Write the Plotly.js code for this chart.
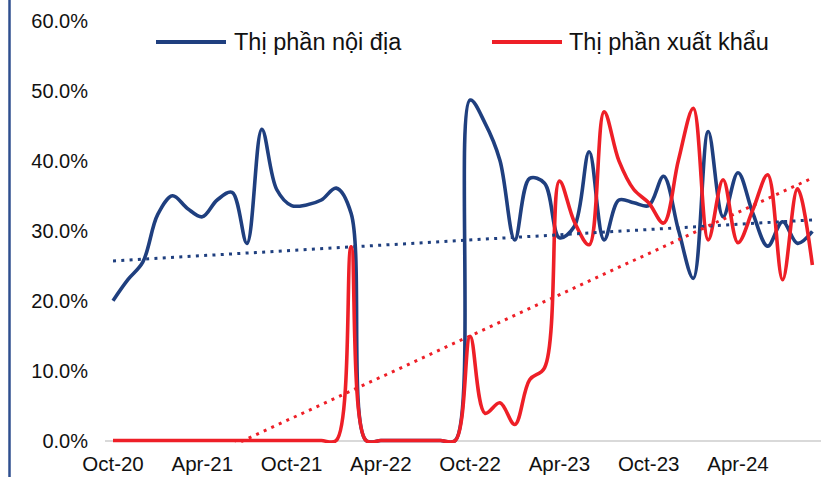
<!DOCTYPE html>
<html>
<head>
<meta charset="utf-8">
<script src="https://cdn.plot.ly/plotly-3.0.1.min.js"></script>
<style>
html, body { margin: 0; padding: 0; background: #fff; }
#chart { width: 821px; height: 477px; }
</style>
</head>
<body>
<div id="chart"></div>
<script>
const months = [
  'Oct-20','Nov-20','Dec-20','Jan-21','Feb-21','Mar-21','Apr-21','May-21','Jun-21','Jul-21','Aug-21','Sep-21',
  'Oct-21','Nov-21','Dec-21','Jan-22','Feb-22','Mar-22','Apr-22','May-22','Jun-22','Jul-22','Aug-22','Sep-22',
  'Oct-22','Nov-22','Dec-22','Jan-23','Feb-23','Mar-23','Apr-23','May-23','Jun-23','Jul-23','Aug-23','Sep-23',
  'Oct-23','Nov-23','Dec-23','Jan-24','Feb-24','Mar-24','Apr-24','May-24','Jun-24','Jul-24','Aug-24','Sep-24'
];
const tickLabels = ['Oct-20','Apr-21','Oct-21','Apr-22','Oct-22','Apr-23','Oct-23','Apr-24'];
const yTicks = [0, 10, 20, 30, 40, 50, 60];
const seriesNames = ['Thị phần nội địa', 'Thị phần xuất khẩu'];

const domestic = [
  20.0, 23.0, 25.5, 32.3, 35.0, 33.2, 32.0, 34.4, 35.5, 28.2, 44.5, 35.9,
  33.6, 33.7, 34.4, 36.1, 32.5, 0, 0, 0, 0, 0, 0, 0,
  48.7, 45.4, 40.1, 28.7, 37.5, 36.8, 29.0, 30.6, 41.3, 28.7, 34.4, 34.0,
  33.6, 37.8, 30.1, 23.2, 44.2, 32.0, 38.3, 32.5, 27.8, 31.3, 28.2, 29.9
];
const exportShare = [
  0, 0, 0, 0, 0, 0, 0, 0, 0, 0, 0, 0,
  0, 0, 0, 0, 27.7, 0, 0, 0, 0, 0, 0, 0,
  14.9, 3.9, 5.4, 2.3, 8.7, 10.4, 37.1, 31.3, 28.0, 47.0, 40.0, 35.9,
  34.0, 31.1, 40.1, 47.5, 28.7, 37.3, 28.3, 33.0, 38.0, 23.0, 36.0, 25.1
];

const BLUE = '#1f3f7f';
const RED = '#ee1f27';

function linFit(vals) {
  const n = vals.length;
  let sx = 0, sy = 0, sxx = 0, sxy = 0;
  vals.forEach((v, i) => { sx += i; sy += v; sxx += i * i; sxy += i * v; });
  const b = (n * sxy - sx * sy) / (n * sxx - sx * sx);
  const a = (sy - b * sx) / n;
  return vals.map((v, i) => a + b * i);
}
const domTrend = linFit(domestic);
const expTrend = linFit(exportShare);

const lineW = 3.6;
const traces = [
  { x: months, y: domestic, type: 'scatter', mode: 'lines', name: seriesNames[0],
    line: { color: BLUE, width: lineW, shape: 'spline', smoothing: 1 }, hoverinfo: 'skip' },
  { x: months, y: exportShare, type: 'scatter', mode: 'lines', name: seriesNames[1],
    line: { color: RED, width: lineW, shape: 'spline', smoothing: 1 }, hoverinfo: 'skip' },
  { x: months, y: domTrend, type: 'scatter', mode: 'lines', showlegend: false,
    line: { color: BLUE, width: 3, dash: '3px,5.3px' }, hoverinfo: 'skip' },
  { x: months, y: expTrend, type: 'scatter', mode: 'lines', showlegend: false,
    line: { color: RED, width: 3, dash: '3px,5.3px' }, hoverinfo: 'skip' }
];

// plot area: x 105..821, y 21..443
const L = 105, T = 21, PW = 716, PH = 422;
const px = v => (v - L) / PW;
const py = v => (T + PH - v) / PH;

const FONT = 'Arial, "Liberation Sans", sans-serif';

const layout = {
  width: 821, height: 477,
  margin: { l: L, r: 0, t: T, b: 477 - T - PH },
  paper_bgcolor: '#ffffff', plot_bgcolor: '#ffffff',
  showlegend: false,
  font: { family: FONT, color: '#111111', size: 20 },
  xaxis: {
    type: 'category',
    range: [-0.538, 47.58],
    tickmode: 'array', tickvals: tickLabels, ticktext: tickLabels,
    showgrid: false, showline: false, zeroline: false,
    ticks: '', ticklabelstandoff: 6,
    tickfont: { family: FONT, size: 20.5, color: '#111111' },
    fixedrange: true
  },
  yaxis: {
    range: [-0.35, 60],
    tickmode: 'array', tickvals: yTicks, ticktext: yTicks.map(v => v.toFixed(1) + '%'),
    showgrid: false, showline: false,
    zeroline: true, zerolinecolor: '#d9d9d9', zerolinewidth: 2,
    ticks: '', ticklabelstandoff: 16,
    tickfont: { family: FONT, size: 20, color: '#111111' },
    fixedrange: true
  },
  shapes: [
    { type: 'line', xref: 'paper', yref: 'paper', x0: px(9.5), x1: px(9.5), y0: py(-5), y1: py(485),
      line: { color: '#2f4f8f', width: 2.5 } },
    { type: 'line', xref: 'paper', yref: 'paper', x0: px(156), x1: px(226), y0: py(42), y1: py(42),
      line: { color: BLUE, width: 4 } },
    { type: 'line', xref: 'paper', yref: 'paper', x0: px(492), x1: px(562), y0: py(42), y1: py(42),
      line: { color: RED, width: 4 } }
  ],
  annotations: [
    { xref: 'paper', yref: 'paper', x: px(232), y: py(42), xanchor: 'left', yanchor: 'middle',
      text: seriesNames[0], showarrow: false, font: { family: FONT, size: 23.5, color: '#111111' } },
    { xref: 'paper', yref: 'paper', x: px(567), y: py(42), xanchor: 'left', yanchor: 'middle',
      text: seriesNames[1], showarrow: false, font: { family: FONT, size: 23.5, color: '#111111' } }
  ]
};

Plotly.newPlot('chart', traces, layout, { staticPlot: true, displayModeBar: false });
</script>
</body>
</html>
